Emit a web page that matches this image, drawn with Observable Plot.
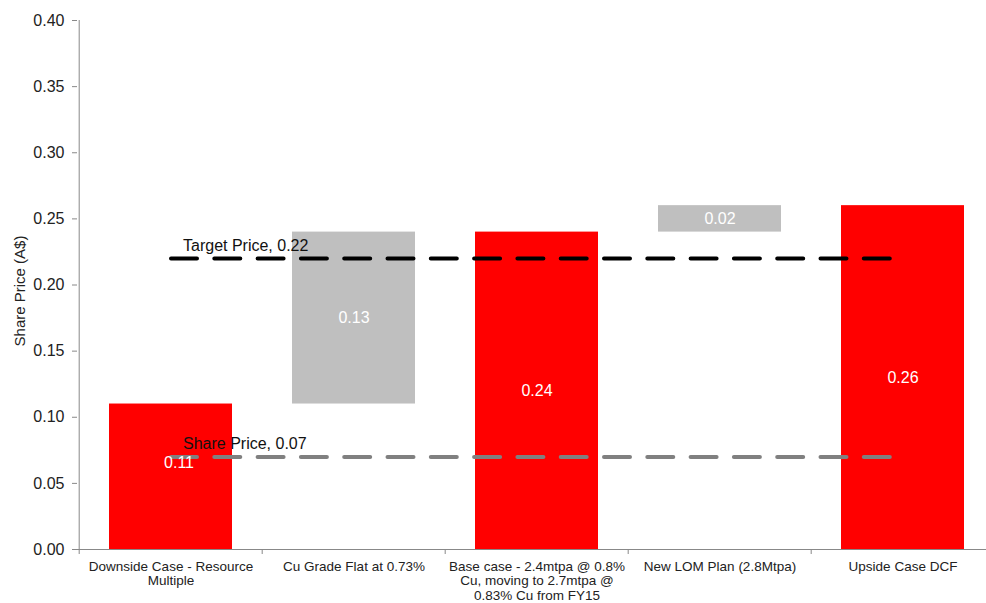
<!DOCTYPE html>
<html><head><meta charset="utf-8">
<script src="https://cdn.jsdelivr.net/npm/d3@7"></script>
<script src="https://cdn.jsdelivr.net/npm/@observablehq/plot@0.6"></script>
<style>html,body{margin:0;padding:0;background:#fff;overflow:hidden;} svg{display:block}</style>
</head><body><div id="chart"></div>
<script>
const categories = [
  "Downside Case - Resource Multiple",
  "Cu Grade Flat at 0.73%",
  "Base case - 2.4mtpa @ 0.8% Cu, moving to 2.7mtpa @ 0.83% Cu from FY15",
  "New LOM Plan (2.8Mtpa)",
  "Upside Case DCF"
];
const tickLabels = [
  "Downside Case - Resource\nMultiple",
  "Cu Grade Flat at 0.73%",
  "Base case - 2.4mtpa @ 0.8%\nCu, moving to 2.7mtpa @\n0.83% Cu from FY15",
  "New LOM Plan (2.8Mtpa)",
  "Upside Case DCF"
];
const barBase  = [0, 0.11, 0, 0.24, 0];
const barValue = [0.11, 0.13, 0.24, 0.02, 0.26];
const barType  = ["total", "step", "total", "step", "total"];
const refNames  = ["Target Price", "Share Price"];
const refValues = [0.22, 0.07];
const refColors = ["#000000", "#808080"];
const yTicks = [0, 0.05, 0.10, 0.15, 0.20, 0.25, 0.30, 0.35, 0.40];

const bars = categories.map((c, i) => ({
  cat: c, base: barBase[i], top: barBase[i] + barValue[i], value: barValue[i], type: barType[i],
  mid: barBase[i] + barValue[i] / 2
}));
const refs = refNames.map((n, i) => ({name: n, value: refValues[i], color: refColors[i]}));

const xRange = [77, 995];
const step = (xRange[1] - xRange[0]) / categories.length;
const fmt = d3.format(".2f");
const grey = "#888888";

const refLineMarks = refs.map(r => Plot.line(
  [{cat: categories[0], v: r.value}, {cat: categories[categories.length - 1], v: r.value}],
  {x: "cat", y: "v", stroke: r.color, strokeWidth: 4, strokeDasharray: "26,17.3", strokeLinecap: "round"}
));

const chart = Plot.plot({
  width: 986,
  height: 603,
  marginTop: 20,
  marginBottom: 54,
  marginLeft: 77,
  marginRight: 0,
  style: {fontFamily: "'Liberation Sans', Arial, sans-serif", background: "white", overflow: "visible"},
  x: {type: "band", domain: categories, range: xRange, paddingInner: 0.33, paddingOuter: 0.165},
  y: {domain: [0, 0.4]},
  color: {domain: ["total", "step"], range: ["#FF0000", "#BFBFBF"]},
  marks: [
    Plot.barY(bars, {x: "cat", y1: "base", y2: "top", fill: "type"}),
    ...refLineMarks,
    Plot.text(refs, {x: () => categories[0], y: "value", text: d => `${d.name}, ${fmt(d.value)}`,
      dx: 12, dy: -13, textAnchor: "start", fontSize: 16, fill: "#111"}),
    Plot.text(bars.slice(0, 1), {x: "cat", y: "mid", text: d => fmt(d.value), fill: "white", fontSize: 16, dx: 8, dy: -14}),
    Plot.text(bars.slice(1), {x: "cat", y: "mid", text: d => fmt(d.value), fill: "white", fontSize: 16}),
    Plot.ruleY([0], {stroke: grey}),
    Plot.ruleX([categories[0]], {x: d => d, dx: -step / 2, y1: 0, y2: 0.4, stroke: grey}),
    Plot.axisY({ticks: yTicks, tickFormat: fmt, tickSize: 5, tickPadding: 8, fontSize: 16, stroke: grey, fill: "#222", label: null}),
    Plot.axisX({tickSize: 5, dx: -step / 2, tickFormat: () => "", stroke: grey, label: null}),
    Plot.text(categories, {x: d => d, frameAnchor: "bottom", text: (d, i) => tickLabels[i],
      dy: 11, lineAnchor: "top", fontSize: 13.5, lineHeight: 1.08, fill: "#222"}),
    Plot.text(["Share Price (A$)"], {frameAnchor: "left", textAnchor: "middle", dx: -57, dy: 6, rotate: -90, fontSize: 15, fill: "#222"})
  ]
});
document.getElementById("chart").appendChild(chart);
</script>
</body></html>
